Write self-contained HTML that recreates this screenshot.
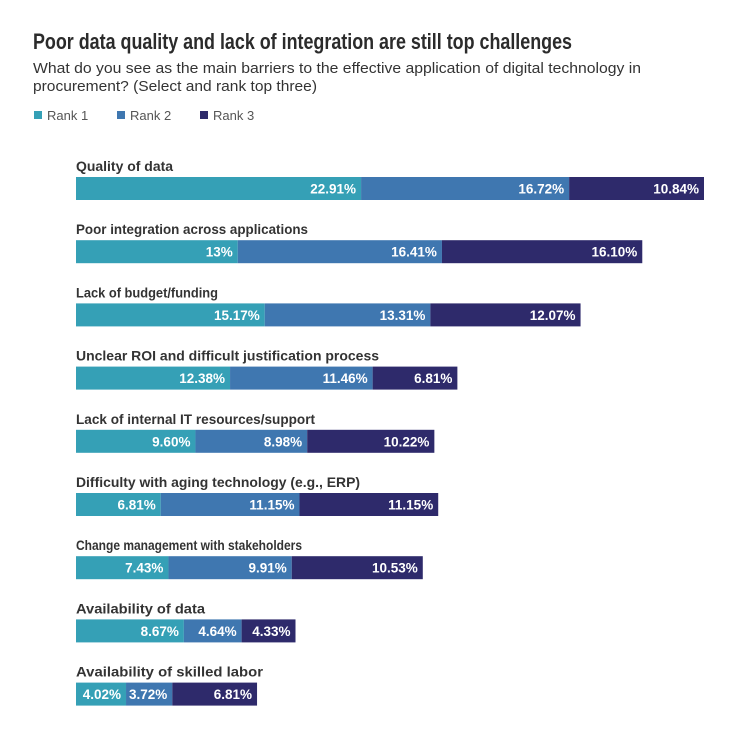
<!DOCTYPE html>
<html><head><meta charset="utf-8"><style>
body{margin:0;background:#fff;}
svg{display:block;font-family:"Liberation Sans",sans-serif;}
</style></head><body>
<svg id="chart" width="746" height="743">
<text x="33" y="49" font-size="22" font-weight="bold" fill="#2b2b2b" textLength="539" lengthAdjust="spacingAndGlyphs">Poor data quality and lack of integration are still top challenges</text>
<text x="33" y="73" font-size="15" fill="#333" textLength="608" lengthAdjust="spacingAndGlyphs">What do you see as the main barriers to the effective application of digital technology in</text>
<text x="33" y="91" font-size="15" fill="#333" textLength="284" lengthAdjust="spacingAndGlyphs">procurement? (Select and rank top three)</text>
<g>
<rect x="34" y="111" width="8" height="8" fill="#35a0b6"/>
<text x="47" y="120" font-size="13" fill="#555">Rank 1</text>
<rect x="117" y="111" width="8" height="8" fill="#3f77b0"/>
<text x="130" y="120" font-size="13" fill="#555">Rank 2</text>
<rect x="200" y="111" width="8" height="8" fill="#2e2a6b"/>
<text x="213" y="120" font-size="13" fill="#555">Rank 3</text>
</g>
<g id="bars"></g>
</svg>
<script>
const categories=["Quality of data","Poor integration across applications","Lack of budget/funding","Unclear ROI and difficult justification process","Lack of internal IT resources/support","Difficulty with aging technology (e.g., ERP)","Change management with stakeholders","Availability of data","Availability of skilled labor"];
const rank1=[22.91,13,15.17,12.38,9.60,6.81,7.43,8.67,4.02];
const rank2=[16.72,16.41,13.31,11.46,8.98,11.15,9.91,4.64,3.72];
const rank3=[10.84,16.10,12.07,6.81,10.22,11.15,10.53,4.33,6.81];
const valueLabels1=["22.91%","13%","15.17%","12.38%","9.60%","6.81%","7.43%","8.67%","4.02%"];
const valueLabels2=["16.72%","16.41%","13.31%","11.46%","8.98%","11.15%","9.91%","4.64%","3.72%"];
const valueLabels3=["10.84%","16.10%","12.07%","6.81%","10.22%","11.15%","10.53%","4.33%","6.81%"];
const colors=["#35a0b6","#3f77b0","#2e2a6b"];
const x0=76, pxPer=628/50.47;
const xScale=v=>v*pxPer;
const rowY=i=>177+i*63.2;
const g=document.getElementById('bars');
const NS="http://www.w3.org/2000/svg";
categories.forEach((c,i)=>{
  const y=rowY(i);
  const t=document.createElementNS(NS,'text');
  
  
  t.setAttribute('x',x0);t.setAttribute('y',y-6);
  t.setAttribute('font-size','14');t.setAttribute('font-weight','bold');t.setAttribute('fill','#333');
  t.setAttribute('textLength',(c.length*6.45).toFixed(0));t.setAttribute('lengthAdjust','spacingAndGlyphs');
  t.textContent=c;g.appendChild(t);
  let x=x0;
  [[rank1,valueLabels1],[rank2,valueLabels2],[rank3,valueLabels3]].forEach((s,k)=>{
    const w=xScale(s[0][i]);
    const r=document.createElementNS(NS,'rect');
    
    
    r.setAttribute('x',x);r.setAttribute('y',y);r.setAttribute('width',w);r.setAttribute('height',23);
    r.setAttribute('fill',colors[k]);g.appendChild(r);
    const v=document.createElementNS(NS,'text');
    
    
    v.setAttribute('x',x+w-5);v.setAttribute('y',y+16.5);v.setAttribute('text-anchor','end');
    v.setAttribute('font-size','13.5');v.setAttribute('font-weight','bold');v.setAttribute('fill','#fff');
    v.textContent=s[1][i];g.appendChild(v);
    x+=w;
  });
});
</script>
</body></html>
